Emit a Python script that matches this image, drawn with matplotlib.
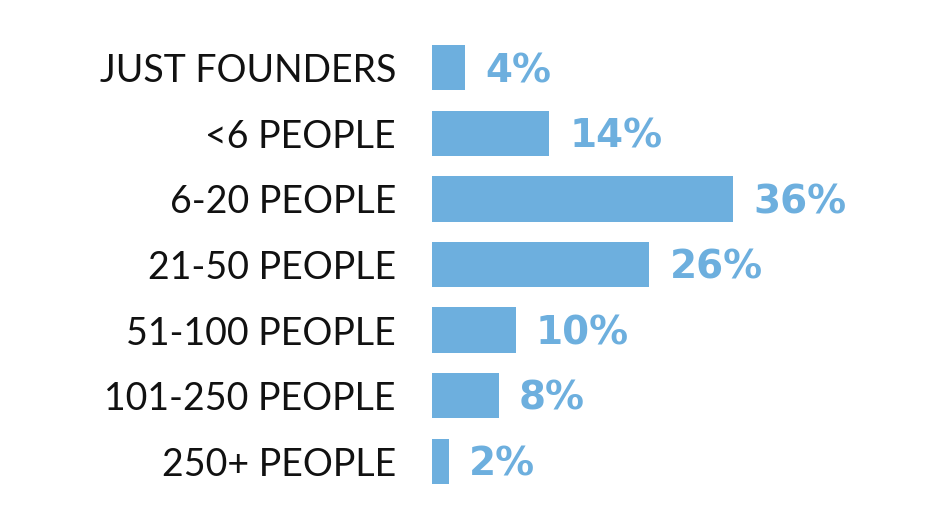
import matplotlib
matplotlib.use('Agg')
import matplotlib.pyplot as plt


categories = ['JUST FOUNDERS', '<6 PEOPLE', '6-20 PEOPLE', '21-50 PEOPLE',
              '51-100 PEOPLE', '101-250 PEOPLE', '250+ PEOPLE']
shares = [4, 14, 36, 26, 10, 8, 2]
labels = ['4%', '14%', '36%', '26%', '10%', '8%', '2%']

blue = '#6DAFDE'

fig = plt.figure(figsize=(9.32, 5.30), dpi=100)
ax = fig.add_axes([432 / 932, 36 / 530, 500 / 932, 459 / 530])

ypos = list(range(len(categories)))
ax.barh(ypos, shares, height=0.69, color=blue)

ax.set_ylim(len(categories) - 0.5, -0.5)
ax.set_xlim(0, 500 / 8.36)

for y, v, lab in zip(ypos, shares, labels):
    ax.text(v + 2.4, y + 0.05, lab, va='center', ha='left', color=blue,
            fontsize=28, fontweight='bold', family='DejaVu Sans')

ax.set_yticks(ypos)
ax.set_yticklabels(categories, fontsize=27, family='Lato', color='#111111')
ax.tick_params(axis='y', length=0, pad=26)
ax.set_xticks([])
for s in ax.spines.values():
    s.set_visible(False)

fig.savefig('out.png', dpi=100, facecolor='white')
